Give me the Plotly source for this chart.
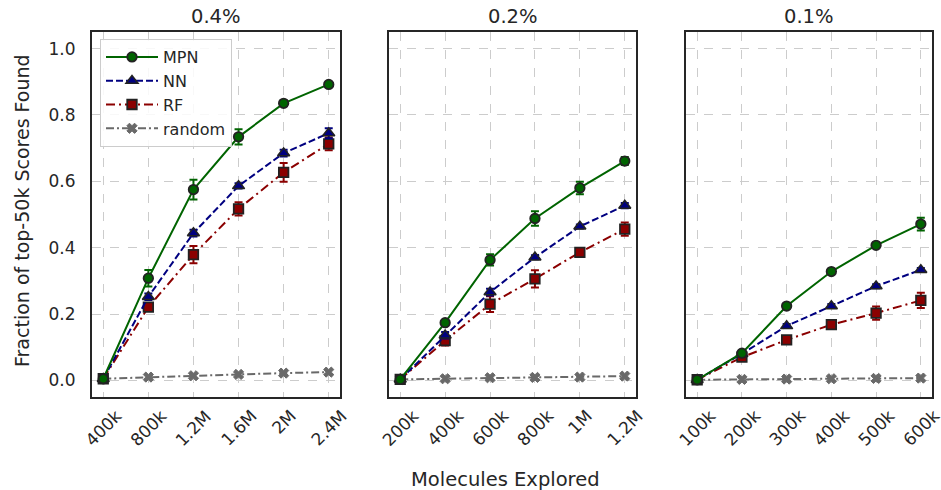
import plotly.graph_objects as go

W, H = 941, 490

titles = ["0.4%", "0.2%", "0.1%"]
labels_1 = ["400k", "800k", "1.2M", "1.6M", "2M", "2.4M"]
labels_2 = ["200k", "400k", "600k", "800k", "1M", "1.2M"]
labels_3 = ["100k", "200k", "300k", "400k", "500k", "600k"]

mpn_1 = [0.005, 0.308, 0.575, 0.734, 0.835, 0.892]
mpn_1_err = [0.002, 0.025, 0.03, 0.023, 0.008, 0.006]
nn_1 = [0.005, 0.252, 0.444, 0.586, 0.685, 0.745]
nn_1_err = [0.002, 0.01, 0.01, 0.008, 0.01, 0.015]
rf_1 = [0.005, 0.221, 0.379, 0.517, 0.627, 0.713]
rf_1_err = [0.002, 0.01, 0.026, 0.02, 0.028, 0.019]
rand_1 = [0.005, 0.01, 0.014, 0.018, 0.022, 0.025]

mpn_2 = [0.003, 0.174, 0.363, 0.488, 0.58, 0.661]
mpn_2_err = [0.002, 0.006, 0.017, 0.022, 0.019, 0.012]
nn_2 = [0.003, 0.136, 0.266, 0.371, 0.464, 0.527]
nn_2_err = [0.002, 0.01, 0.01, 0.006, 0.006, 0.008]
rf_2 = [0.003, 0.12, 0.23, 0.306, 0.386, 0.456]
rf_2_err = [0.002, 0.015, 0.024, 0.026, 0.012, 0.02]
rand_2 = [0.003, 0.005, 0.008, 0.009, 0.01, 0.013]

mpn_3 = [0.002, 0.082, 0.224, 0.328, 0.407, 0.471]
mpn_3_err = [0.001, 0.006, 0.005, 0.005, 0.006, 0.019]
nn_3 = [0.002, 0.08, 0.164, 0.224, 0.284, 0.333]
nn_3_err = [0.001, 0.005, 0.006, 0.006, 0.006, 0.006]
rf_3 = [0.002, 0.07, 0.122, 0.168, 0.203, 0.241]
rf_3_err = [0.001, 0.01, 0.008, 0.01, 0.02, 0.023]
rand_3 = [0.002, 0.003, 0.004, 0.005, 0.006, 0.007]

panels = [
    (labels_1, mpn_1, mpn_1_err, nn_1, nn_1_err, rf_1, rf_1_err, rand_1),
    (labels_2, mpn_2, mpn_2_err, nn_2, nn_2_err, rf_2, rf_2_err, rand_2),
    (labels_3, mpn_3, mpn_3_err, nn_3, nn_3_err, rf_3, rf_3_err, rand_3),
]

# pixel boxes of the three panels
px_x = [(92, 340), (389, 636), (686, 932)]
px_top, px_bot = 32, 397

TXT = "#262626"
FONT = "DejaVu Sans"
EDGE = "#222222"

fig = go.Figure()

for i, (labels, mpn, mpn_e, nn, nn_e, rf, rf_e, rnd) in enumerate(panels):
    xs = list(range(len(labels)))
    xa = "x" if i == 0 else f"x{i+1}"
    ya = "y" if i == 0 else f"y{i+1}"
    show = i == 0
    fig.add_trace(go.Scatter(
        x=xs, y=rnd, name="random", xaxis=xa, yaxis=ya, showlegend=show, legendrank=4,
        mode="lines+markers",
        line=dict(color="#696969", width=2, dash="8px,3px,2px,3px"),
        marker=dict(symbol="x", size=9, color="#696969", line=dict(color="#696969", width=1)),
    ))
    fig.add_trace(go.Scatter(
        x=xs, y=rf, name="RF", xaxis=xa, yaxis=ya, showlegend=show, legendrank=3,
        mode="lines+markers",
        line=dict(color="#8B0000", width=2, dash="9px,4px,2px,4px"),
        marker=dict(symbol="square", size=9.5, color="#8B0000", line=dict(color=EDGE, width=1.8)),
        error_y=dict(type="data", array=rf_e, color="#8B0000", thickness=2, width=4),
    ))
    fig.add_trace(go.Scatter(
        x=xs, y=nn, name="NN", xaxis=xa, yaxis=ya, showlegend=show, legendrank=2,
        mode="lines+markers",
        line=dict(color="#000080", width=2, dash="7px,3px"),
        marker=dict(symbol="triangle-up", size=10.5, color="#000080", line=dict(color=EDGE, width=1.5)),
        error_y=dict(type="data", array=nn_e, color="#000080", thickness=2, width=4),
    ))
    fig.add_trace(go.Scatter(
        x=xs, y=mpn, name="MPN", xaxis=xa, yaxis=ya, showlegend=show, legendrank=1,
        mode="lines+markers",
        line=dict(color="#006400", width=2),
        marker=dict(symbol="circle", size=9.5, color="#006400", line=dict(color=EDGE, width=1.8)),
        error_y=dict(type="data", array=mpn_e, color="#006400", thickness=2, width=4),
    ))

layout = dict(
    width=W, height=H, autosize=False,
    margin=dict(l=0, r=0, t=0, b=0, pad=0, autoexpand=False),
    paper_bgcolor="white", plot_bgcolor="white",
    font=dict(family=FONT, color=TXT, size=17),
    legend=dict(
        x=100 / W, y=1 - 39 / H, xanchor="left", yanchor="top",
        bgcolor="rgba(255,255,255,0.85)", bordercolor="#cccccc", borderwidth=1,
        font=dict(size=16, family=FONT, color=TXT),
        itemwidth=52, tracegroupgap=0,
    ),
    annotations=[],
)

ydom = [1 - px_bot / H, 1 - px_top / H]
for i in range(3):
    labels = panels[i][0]
    xs = list(range(len(labels)))
    key = "" if i == 0 else str(i + 1)
    layout["xaxis" + key] = dict(
        domain=[px_x[i][0] / W, px_x[i][1] / W],
        anchor="y" + key, automargin=False,
        range=[-0.25, 5.25],
        tickvals=xs, ticktext=labels, showticklabels=False,
        showgrid=True, gridcolor="#cccccc", gridwidth=1, griddash="dash",
        showline=True, mirror=True, linecolor="#262626", linewidth=2,
        zeroline=False, ticks="",
    )
    layout["yaxis" + key] = dict(
        domain=ydom,
        anchor="x" + key, automargin=False,
        range=[-0.05, 1.05],
        tickvals=[0, 0.2, 0.4, 0.6, 0.8, 1.0],
        ticktext=["0.0", "0.2", "0.4", "0.6", "0.8", "1.0"],
        showticklabels=(i == 0),
        tickfont=dict(size=17, family=FONT, color=TXT),
        showgrid=True, gridcolor="#cccccc", gridwidth=1, griddash="dash",
        showline=True, mirror=True, linecolor="#262626", linewidth=2,
        zeroline=False, ticks="", ticklabelstandoff=11,
    )
    if i > 0:
        layout["yaxis" + key]["matches"] = "y"
    # rotated x tick labels, centred under each tick (matplotlib style)
    for xv, lab in zip(xs, labels):
        layout["annotations"].append(dict(
            text=lab, x=xv, y=1 - 403 / H, xref="x" + key, yref="paper",
            xanchor="center", yanchor="top", showarrow=False, textangle=-45,
            font=dict(size=17, family=FONT, color=TXT),
        ))
    cx = (px_x[i][0] + px_x[i][1]) / 2 / W
    layout["annotations"].append(dict(
        text=titles[i], x=cx, y=1 - 30 / H, xref="paper", yref="paper",
        xanchor="center", yanchor="bottom", showarrow=False,
        font=dict(size=19.5, family=FONT, color=TXT),
    ))

layout["annotations"].append(dict(
    text="Molecules Explored", x=505 / W, y=1 - 479 / H, xref="paper", yref="paper",
    xanchor="center", yanchor="middle", showarrow=False,
    font=dict(size=19.5, family=FONT, color=TXT),
))
layout["annotations"].append(dict(
    text="Fraction of top-50k Scores Found", x=22 / W, y=1 - 211 / H, xref="paper", yref="paper",
    xanchor="center", yanchor="middle", showarrow=False, textangle=-90,
    font=dict(size=19, family=FONT, color=TXT),
))

fig.update_layout(**layout)
fig.write_html(
    "out.html",
    config={"displayModeBar": False},
    post_script="document.body.style.margin='0';document.body.style.overflow='hidden';",
)
